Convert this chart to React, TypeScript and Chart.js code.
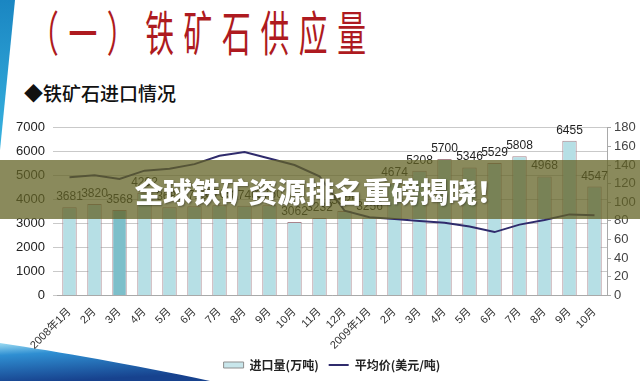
import React, { useEffect, useRef } from 'react';
import { Chart, registerables } from 'chart.js';

Chart.register(...registerables);

const categories = [
  '2008年1月', '2月', '3月', '4月', '5月', '6月', '7月', '8月', '9月', '10月', '11月', '12月',
  '2009年1月', '2月', '3月', '4月', '5月', '6月', '7月', '8月', '9月', '10月',
];
const importVolume = [
  3681, 3820, 3568, 4292, 3683, 3719, 3765, 3740, 3760, 3062, 3232, 3525,
  3256, 4674, 5208, 5700, 5346, 5529, 5808, 4968, 6455, 4547,
];
const avgPrice = [
  127, 129, 125, 134, 136, 141, 150, 154, 147, 140, 128, 91,
  84, 82, 80, 78, 74, 68, 76, 81, 87, 86,
];
const highlightedIndex = 2;
const volumeTicks = { min: 0, max: 7000, step: 1000 };
const priceTicks = { min: 0, max: 180, step: 20 };
const seriesNames = ['进口量(万吨)', '平均价(美元/吨)'];

const BAR_FILL = '#b6dfe5';
const BAR_HIGHLIGHT = '#7dbfca';
const BAR_BORDER = '#a8848c';
const LINE_COLOR = '#2f2b6c';

const barLabels = {
  id: 'barLabels',
  afterDatasetsDraw(chart: any) {
    const meta = chart.getDatasetMeta(0);
    const ctx = chart.ctx;
    ctx.save();
    ctx.font = '12px "Liberation Sans", Arial, sans-serif';
    ctx.fillStyle = '#1f1f1f';
    ctx.textAlign = 'center';
    ctx.textBaseline = 'alphabetic';
    meta.data.forEach((el: any, i: number) => {
      ctx.fillText(String(importVolume[i]), el.x, el.y - 7);
    });
    ctx.restore();
  },
};

export default function App() {
  const canvasRef = useRef<HTMLCanvasElement | null>(null);

  useEffect(() => {
    if (!canvasRef.current) return;
    Chart.defaults.font.family = '"Liberation Sans", Arial, "Noto Sans CJK SC", sans-serif';
    const chart = new Chart(canvasRef.current, {
      type: 'bar',
      data: {
        labels: categories,
        datasets: [
          {
            type: 'bar',
            label: seriesNames[0],
            data: importVolume,
            yAxisID: 'y',
            backgroundColor: importVolume.map((_, i) => (i === highlightedIndex ? BAR_HIGHLIGHT : BAR_FILL)),
            borderColor: BAR_BORDER,
            borderWidth: 1,
            categoryPercentage: 0.8,
            barPercentage: 0.72,
            order: 1,
          },
          {
            type: 'line',
            label: seriesNames[1],
            data: avgPrice,
            yAxisID: 'y1',
            borderColor: LINE_COLOR,
            backgroundColor: LINE_COLOR,
            borderWidth: 2,
            pointRadius: 0,
            tension: 0,
            order: 0,
          },
        ],
      },
      options: {
        animation: false,
        responsive: false,
        layout: { padding: { top: 12, left: 0, right: 0, bottom: 0 } },
        plugins: {
          tooltip: { enabled: false },
          legend: {
            position: 'bottom',
            fullSize: false,
            labels: {
              usePointStyle: true,
              pointStyleWidth: 20,
              boxWidth: 20,
              boxHeight: 6,
              padding: 10,
              color: '#222',
              font: { size: 12, weight: 'bold', family: '"Noto Sans CJK SC", serif' },
              sort: (a: any, b: any) => a.datasetIndex - b.datasetIndex,
              generateLabels: (chart: any) => {
                const items = (Chart.defaults.plugins.legend.labels as any).generateLabels(chart);
                items.forEach((it: any) => {
                  if (it.datasetIndex === 0) {
                    it.pointStyle = 'rect';
                    it.fillStyle = '#c8e6eb';
                    it.strokeStyle = '#8f8f8f';
                    it.lineWidth = 1;
                  } else {
                    it.pointStyle = 'line';
                    it.strokeStyle = LINE_COLOR;
                    it.fillStyle = LINE_COLOR;
                    it.lineWidth = 2;
                  }
                });
                return items;
              },
            },
          },
        },
        scales: {
          x: {
            offset: true,
            grid: { display: false },
            border: { display: true, color: '#a9a9a9', width: 1 },
            ticks: {
              minRotation: 45,
              maxRotation: 45,
              autoSkip: false,
              padding: 2,
              color: '#333',
              font: { size: 11 },
            },
            afterFit: (s: any) => { s.height = 53.6; },
          },
          y: {
            position: 'left',
            min: volumeTicks.min,
            max: volumeTicks.max,
            ticks: {
              stepSize: volumeTicks.step, padding: 8, color: '#222', font: { size: 13 },
              callback: (v: any) => String(v),
            },
            grid: { color: '#c9c9c9', tickLength: 4, drawTicks: true },
            border: { display: false },
            afterFit: (s: any) => { s.width = 57; },
          },
          y1: {
            position: 'right',
            min: priceTicks.min,
            max: priceTicks.max,
            ticks: {
              stepSize: priceTicks.step, padding: 3, color: '#444', font: { size: 13 },
              callback: (v: any) => String(v),
            },
            grid: { drawOnChartArea: false, color: '#a9a9a9', tickLength: 4 },
            border: { display: true, color: '#a9a9a9' },
            afterFit: (s: any) => { s.width = 33; },
          },
        },
      },
      plugins: [barLabels],
    } as any);
    return () => chart.destroy();
  }, []);

  return (
    <div style={{ position: 'fixed', left: 0, top: 0, width: 640, height: 381, overflow: 'hidden', background: '#fff' }}>
      <svg width={640} height={381} style={{ position: 'absolute', left: 0, top: 0 }}>
        <defs>
          <linearGradient id="tl" x1="0" y1="0" x2="0" y2="1">
            <stop offset="0" stopColor="#1a86c2" />
            <stop offset="1" stopColor="#39b3e0" />
          </linearGradient>
          <linearGradient id="bt" x1="0" y1="0" x2="0.3" y2="1">
            <stop offset="0" stopColor="#9ddcf2" />
            <stop offset="0.3" stopColor="#2f8fd2" />
            <stop offset="1" stopColor="#17428e" />
          </linearGradient>
        </defs>
        <path d="M0,0 L15,0 L0,150 Z" fill="url(#tl)" />
        <path d="M0,343 C60,352 130,364 210,381 L0,381 Z" fill="url(#bt)" />
      </svg>
      <div
        style={{
          position: 'absolute', left: 30, top: 6, whiteSpace: 'nowrap',
          fontFamily: '"Noto Sans CJK SC", sans-serif', fontSize: 48, lineHeight: '48px',
          letterSpacing: 16, color: '#ae1a20', transform: 'scaleX(0.6)', transformOrigin: '0 0',
        }}
      >
        （一）铁矿石供应量
      </div>
      <div
        style={{
          position: 'absolute', left: 24, top: 83, whiteSpace: 'nowrap',
          fontFamily: '"Noto Sans CJK SC", sans-serif', fontSize: 19, lineHeight: '19px',
          fontWeight: 500, color: '#111',
        }}
      >
        ◆铁矿石进口情况
      </div>
      <div style={{ position: 'absolute', left: 0, top: 112, width: 640, height: 269 }}>
        <canvas ref={canvasRef} width={640} height={269} />
      </div>
      <div
        style={{
          position: 'absolute', left: 0, top: 160, width: 640, height: 59,
          background: 'rgba(99,99,38,0.75)', display: 'flex', alignItems: 'center', justifyContent: 'center',
        }}
      >
        <span
          style={{
            fontFamily: '"Noto Sans CJK SC", sans-serif', fontSize: 28.5, fontWeight: 900,
            color: '#fff', whiteSpace: 'nowrap', textShadow: '1px 1px 2px rgba(0,0,0,0.35)', marginTop: 2,
          }}
        >
          全球铁矿资源排名重磅揭晓！
        </span>
      </div>
    </div>
  );
}
